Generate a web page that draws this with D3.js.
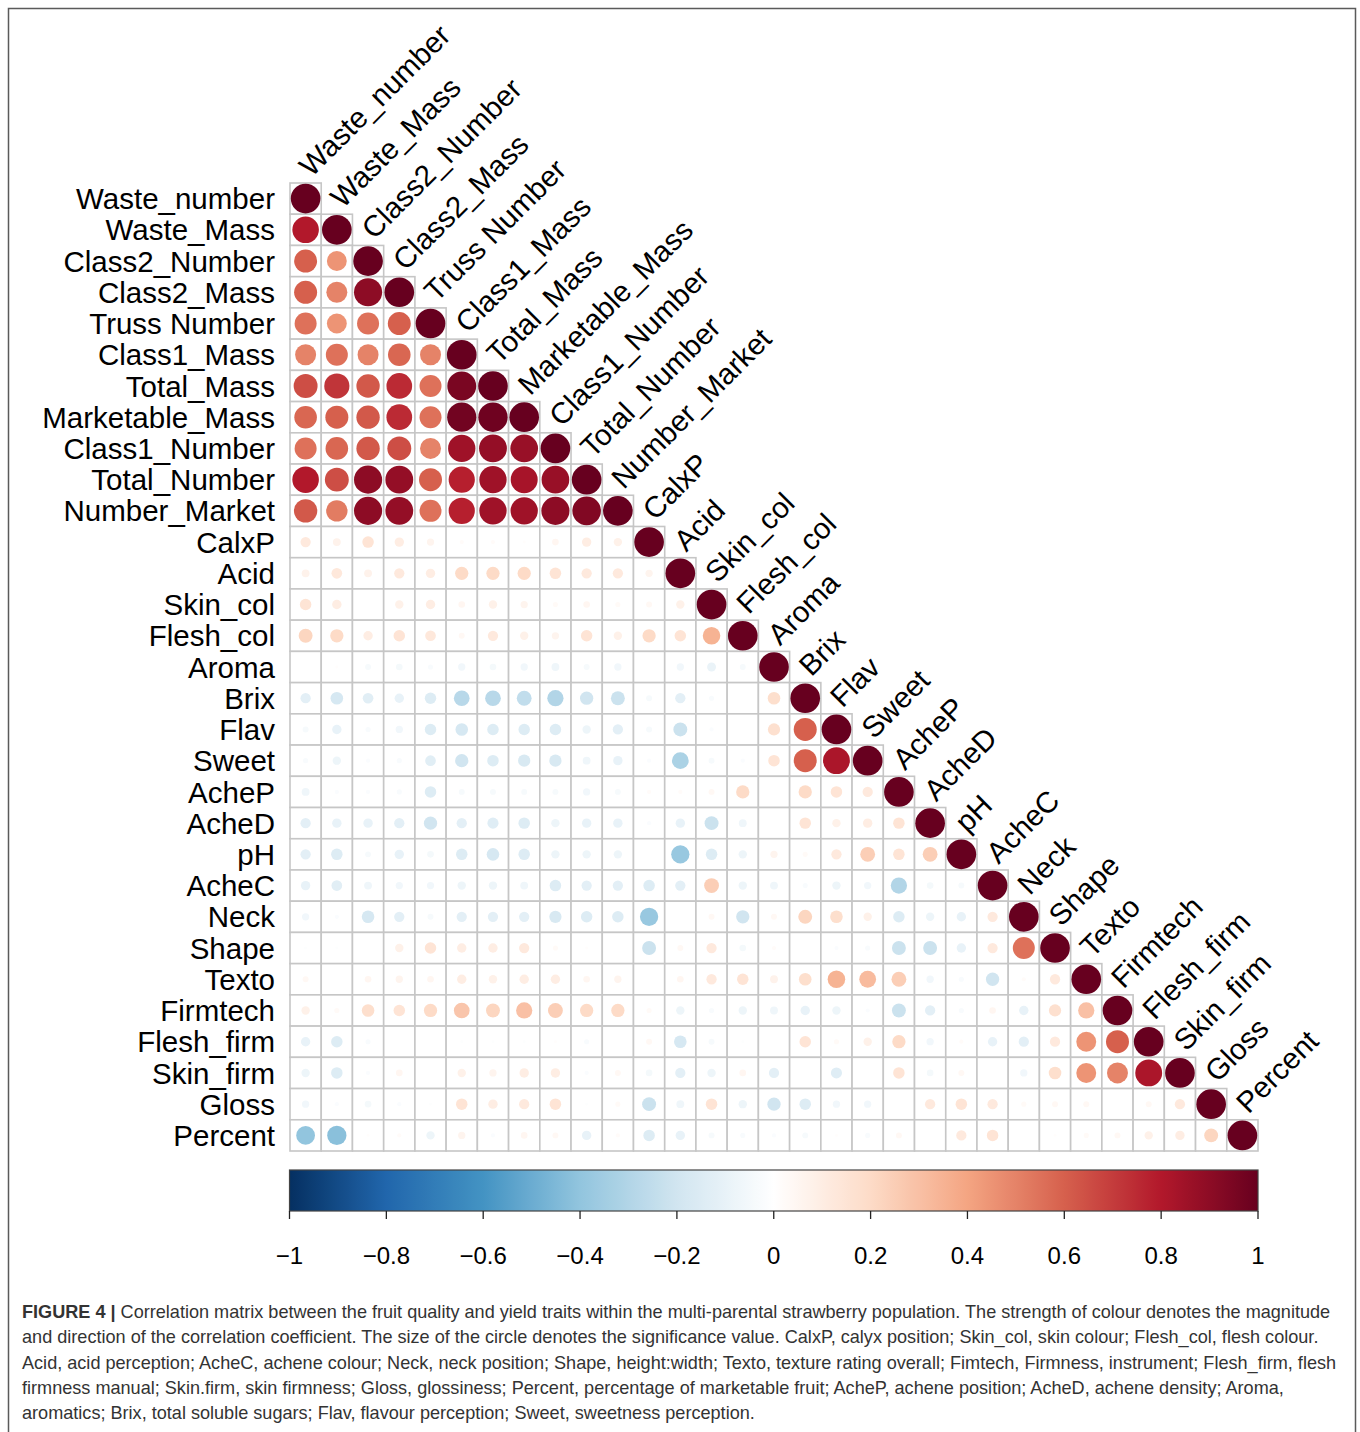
<!DOCTYPE html>
<html>
<head>
<meta charset="utf-8">
<script src="https://cdn.jsdelivr.net/npm/d3@7"></script>
<style>
  html, body { margin: 0; padding: 0; background: #fff; }
  svg { display: block; }
</style>
</head>
<body>
<svg id="fig" width="1360" height="1432"></svg>
<script>
// Traits, in matrix order
const traits = [
  "Waste_number", "Waste_Mass", "Class2_Number", "Class2_Mass", "Truss Number",
  "Class1_Mass", "Total_Mass", "Marketable_Mass", "Class1_Number", "Total_Number",
  "Number_Market", "CalxP", "Acid", "Skin_col", "Flesh_col", "Aroma", "Brix",
  "Flav", "Sweet", "AcheP", "AcheD", "pH", "AcheC", "Neck", "Shape", "Texto",
  "Firmtech", "Flesh_firm", "Skin_firm", "Gloss", "Percent"
];

// Lower triangle of the correlation matrix: row i holds r(i, j) for j < i
// (the diagonal is 1 and is added when the cells are built)
const lowerTriangle = [
  [],
  [0.80],
  [0.60, 0.45],
  [0.60, 0.50, 0.90],
  [0.55, 0.45, 0.55, 0.60],
  [0.50, 0.55, 0.50, 0.58, 0.50],
  [0.65, 0.72, 0.62, 0.75, 0.55, 0.95],
  [0.58, 0.60, 0.62, 0.75, 0.55, 0.97, 0.98],
  [0.55, 0.58, 0.62, 0.65, 0.50, 0.85, 0.88, 0.87],
  [0.80, 0.65, 0.90, 0.88, 0.60, 0.78, 0.85, 0.83, 0.87],
  [0.62, 0.52, 0.90, 0.88, 0.55, 0.78, 0.85, 0.85, 0.90, 0.93],
  [0.12, 0.07, 0.15, 0.10, 0.06, 0.02, 0.02, 0.01, 0.05, 0.10, 0.08],
  [0.07, 0.13, 0.07, 0.12, 0.10, 0.20, 0.20, 0.20, 0.15, 0.12, 0.12, 0.06],
  [0.15, 0.10, 0.00, 0.08, 0.10, 0.05, 0.08, 0.06, 0.03, 0.05, 0.03, 0.04, 0.08],
  [0.22, 0.20, 0.10, 0.15, 0.13, 0.04, 0.12, 0.08, 0.06, 0.15, 0.08, 0.20, 0.15, 0.35],
  [0.00, 0.01, -0.04, -0.05, -0.03, -0.06, -0.05, -0.06, -0.07, -0.04, -0.06, 0.00, -0.06, -0.09, -0.04],
  [-0.12, -0.18, -0.13, -0.10, -0.15, -0.28, -0.28, -0.25, -0.30, -0.20, -0.22, -0.04, -0.12, -0.03, 0.00, 0.18],
  [-0.04, -0.10, -0.03, -0.06, -0.15, -0.18, -0.15, -0.15, -0.15, -0.08, -0.12, -0.04, -0.22, -0.02, 0.00, 0.17, 0.60],
  [-0.03, -0.08, -0.02, -0.03, -0.13, -0.20, -0.15, -0.17, -0.17, -0.07, -0.10, -0.02, -0.32, -0.04, -0.02, 0.15, 0.60, 0.82],
  [-0.07, -0.02, -0.02, -0.03, -0.15, -0.04, -0.04, -0.04, -0.04, -0.06, -0.04, 0.02, 0.02, 0.04, 0.20, 0.00, 0.20, 0.15, 0.12],
  [-0.12, -0.10, -0.10, -0.12, -0.20, -0.12, -0.14, -0.15, -0.08, -0.10, -0.10, -0.02, -0.10, -0.22, -0.07, 0.00, 0.15, 0.08, 0.10, 0.15],
  [-0.12, -0.15, -0.04, -0.10, -0.05, -0.15, -0.18, -0.15, -0.08, -0.08, -0.08, 0.00, -0.38, -0.15, -0.08, 0.06, 0.03, 0.12, 0.25, 0.15, 0.25],
  [-0.10, -0.13, -0.07, -0.06, -0.06, -0.08, -0.08, -0.07, -0.15, -0.12, -0.12, -0.15, -0.12, 0.25, -0.08, -0.07, -0.03, -0.08, -0.06, -0.30, -0.05, -0.04],
  [-0.06, -0.02, -0.18, -0.12, -0.04, -0.12, -0.12, -0.12, -0.17, -0.15, -0.15, -0.38, 0.00, 0.04, -0.20, 0.04, 0.22, 0.18, 0.08, -0.15, -0.08, -0.10, 0.12],
  [-0.01, -0.01, 0.00, 0.08, 0.15, 0.10, 0.10, 0.12, 0.03, 0.01, 0.00, -0.22, 0.04, 0.12, -0.05, 0.02, 0.00, -0.02, -0.03, -0.22, -0.22, -0.10, 0.12, 0.55],
  [0.04, 0.00, 0.05, 0.06, 0.05, 0.10, 0.08, 0.10, 0.10, 0.05, 0.06, 0.00, 0.05, 0.12, 0.15, 0.07, 0.18, 0.35, 0.32, 0.25, -0.06, -0.03, -0.20, 0.02, 0.12],
  [0.08, 0.03, 0.18, 0.15, 0.20, 0.28, 0.22, 0.30, 0.25, 0.20, 0.20, 0.03, -0.08, -0.03, -0.08, -0.07, -0.10, -0.08, -0.02, -0.22, -0.12, -0.03, 0.05, -0.10, 0.17, 0.30],
  [-0.10, -0.15, -0.03, 0.00, 0.00, -0.01, -0.01, -0.01, 0.01, -0.03, 0.00, 0.04, -0.18, -0.04, -0.01, 0.00, 0.15, 0.03, 0.08, 0.20, -0.06, 0.02, -0.10, -0.12, 0.12, 0.45, 0.60],
  [-0.08, -0.15, -0.02, 0.05, 0.00, 0.08, 0.06, 0.10, 0.10, -0.02, 0.04, -0.05, -0.12, -0.08, 0.05, -0.12, 0.00, -0.14, 0.00, 0.15, -0.05, 0.04, 0.00, -0.06, 0.18, 0.45, 0.50, 0.82],
  [-0.06, -0.02, -0.05, -0.02, -0.01, 0.15, 0.10, 0.12, 0.15, -0.01, 0.03, -0.22, -0.07, 0.15, -0.08, -0.20, -0.15, -0.06, -0.06, 0.00, 0.12, 0.15, 0.12, 0.03, 0.04, 0.04, 0.00, 0.04, 0.12],
  [-0.40, -0.42, 0.01, 0.02, -0.08, 0.06, -0.02, 0.05, 0.04, -0.10, 0.02, -0.15, -0.10, -0.04, -0.03, -0.02, -0.04, 0.01, -0.03, 0.04, 0.00, 0.12, 0.15, 0.00, 0.01, 0.03, 0.04, 0.08, 0.10, 0.22]
];

// Diverging palette (blue -> white -> red) and colour-key ticks
const paletteStops = [-1, -0.8, -0.6, -0.4, -0.2, 0, 0.2, 0.4, 0.6, 0.8, 1];
const paletteColours = ["#053061", "#2166AC", "#4393C3", "#92C5DE", "#D1E5F0", "#FFFFFF",
                        "#FDDBC7", "#F4A582", "#D6604D", "#B2182B", "#67001F"];
const keyTicks = [-1, -0.8, -0.6, -0.4, -0.2, 0, 0.2, 0.4, 0.6, 0.8, 1];
const keyTickLabels = ["\u22121", "\u22120.8", "\u22120.6", "\u22120.4", "\u22120.2", "0",
                       "0.2", "0.4", "0.6", "0.8", "1"];

// Caption lines
const captionLead = "FIGURE 4 | ";
const captionLines = [
  "Correlation matrix between the fruit quality and yield traits within the multi-parental strawberry population. The strength of colour denotes the magnitude",
  "and direction of the correlation coefficient. The size of the circle denotes the significance value. CalxP, calyx position; Skin_col, skin colour; Flesh_col, flesh colour.",
  "Acid, acid perception; AcheC, achene colour; Neck, neck position; Shape, height:width; Texto, texture rating overall; Fimtech, Firmness, instrument; Flesh_firm, flesh",
  "firmness manual; Skin.firm, skin firmness; Gloss, glossiness; Percent, percentage of marketable fruit; AcheP, achene position; AcheD, achene density; Aroma,",
  "aromatics; Brix, total soluble sugars; Flav, flavour perception; Sweet, sweetness perception."
];

const FONT = "'Liberation Sans', Arial, Helvetica, sans-serif";
const svg = d3.select("#fig");

// Outer frame of the figure panel
svg.append("path")
  .attr("d", "M8.5,1432 V8.5 H1355.5 V1432")
  .attr("fill", "none")
  .attr("stroke", "#5a5a5a")
  .attr("stroke-width", 1.5);

// Matrix scales
const x = d3.scaleBand().domain(traits).range([290, 1258]);
const y = d3.scaleBand().domain(traits).range([183, 1151]);
const bw = x.bandwidth();
const colour = d3.scaleLinear().domain(paletteStops).range(paletteColours).interpolate(d3.interpolateRgb);
const radius = d3.scaleSqrt().domain([0, 1]).range([0, bw * 0.475]);

// Build cells of the lower triangle (including the diagonal)
const cells = [];
lowerTriangle.forEach((row, i) => {
  row.forEach((r, j) => cells.push({ row: traits[i], col: traits[j], r }));
  cells.push({ row: traits[i], col: traits[i], r: 1 });
});

const grid = svg.append("g");
grid.selectAll("rect")
  .data(cells)
  .join("rect")
  .attr("x", d => x(d.col))
  .attr("y", d => y(d.row))
  .attr("width", bw)
  .attr("height", bw)
  .attr("fill", "#fff")
  .attr("stroke", "#c6c6c6")
  .attr("stroke-width", 1.6);

grid.selectAll("circle")
  .data(cells)
  .join("circle")
  .attr("cx", d => x(d.col) + bw / 2)
  .attr("cy", d => y(d.row) + bw / 2)
  .attr("r", d => radius(Math.abs(d.r)))
  .attr("fill", d => colour(d.r));

// Row labels
svg.append("g").selectAll("text")
  .data(traits)
  .join("text")
  .attr("x", 275)
  .attr("y", d => y(d) + bw / 2)
  .attr("dy", "0.36em")
  .attr("text-anchor", "end")
  .attr("font-family", FONT)
  .attr("font-size", 29.5)
  .attr("fill", "#000")
  .text(d => d);

// Column labels, rotated along the diagonal
svg.append("g").selectAll("text")
  .data(traits)
  .join("text")
  .attr("transform", d => `translate(${x(d) + bw / 2 + 6},${y(d) - 5}) rotate(-45)`)
  .attr("text-anchor", "start")
  .attr("font-family", FONT)
  .attr("font-size", 29.5)
  .attr("fill", "#000")
  .text(d => d);

// Colour key
const keyX = d3.scaleLinear().domain([-1, 1]).range([289.5, 1258]);
const defs = svg.append("defs");
const grad = defs.append("linearGradient").attr("id", "keyGrad")
  .attr("x1", "0%").attr("x2", "100%").attr("y1", "0%").attr("y2", "0%");
d3.range(0, 101).forEach(k => {
  const v = -1 + 2 * k / 100;
  grad.append("stop").attr("offset", `${k}%`).attr("stop-color", colour(v));
});
const keyTop = 1170, keyBottom = 1211;
svg.append("rect")
  .attr("x", keyX(-1))
  .attr("y", keyTop)
  .attr("width", keyX(1) - keyX(-1))
  .attr("height", keyBottom - keyTop)
  .attr("fill", "url(#keyGrad)")
  .attr("stroke", "#444")
  .attr("stroke-width", 1.2);

const keyAxis = svg.append("g");
keyAxis.selectAll("line")
  .data(keyTicks)
  .join("line")
  .attr("x1", d => keyX(d)).attr("x2", d => keyX(d))
  .attr("y1", keyBottom).attr("y2", keyBottom + 8)
  .attr("stroke", "#222")
  .attr("stroke-width", 1.3);
keyAxis.selectAll("text")
  .data(keyTicks)
  .join("text")
  .attr("x", d => keyX(d))
  .attr("y", 1264)
  .attr("text-anchor", "middle")
  .attr("font-family", FONT)
  .attr("font-size", 24)
  .attr("fill", "#000")
  .text((d, i) => keyTickLabels[i]);

// Caption
const cap = svg.append("g")
  .attr("font-family", FONT)
  .attr("font-size", 18.1)
  .attr("fill", "#333");
captionLines.forEach((line, i) => {
  const t = cap.append("text")
    .attr("x", 22)
    .attr("y", 1318 + i * 25.3);
  if (i === 0) {
    t.append("tspan").attr("font-weight", "bold").text(captionLead);
  }
  t.append("tspan").text(line);
});
</script>
</body>
</html>
